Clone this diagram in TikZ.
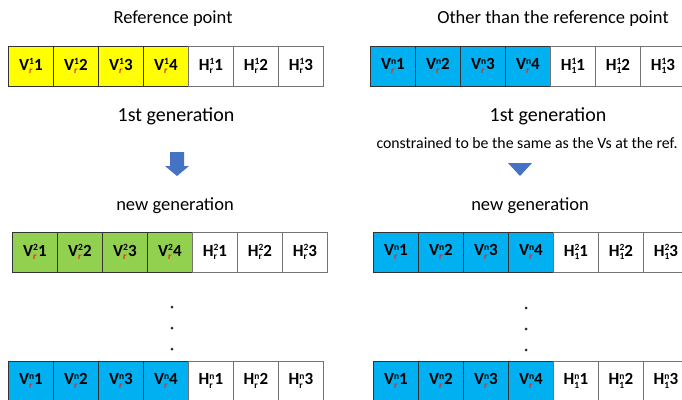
\documentclass[tikz,border=0pt]{standalone}
\usepackage{fontspec}
\setmainfont{Carlito}
\definecolor{cyellow}{HTML}{FFFF00}
\definecolor{cblue}{HTML}{00B0F0}
\definecolor{cgreen}{HTML}{92D050}
\definecolor{arrowblue}{HTML}{4472C4}
\definecolor{subred}{HTML}{E0301E}
\newcommand\supsub[2]{\raisebox{-3.5pt}{\vbox{\fontsize{9.5}{9}\selectfont\baselineskip=9pt\lineskiplimit=-20pt\hbox{#1}\hbox{#2}}}}
\newcommand\cellV[2]{V\supsub{#1}{\color{subred}\itshape r}#2}
\newcommand\cellH[3]{H\supsub{#2}{#1}#3}
\tikzset{
  cellbox/.style={draw=#1, line width=0.8pt, minimum width=45pt, minimum height=39.5pt,
    inner sep=0pt, anchor=north west, font=\fontsize{17}{20}\selectfont\bfseries},
  cellbox/.default={black!80},
  wcell/.style={cellbox={black!55}, fill=white},
  title/.style={font=\fontsize{18.5}{22}\selectfont, inner sep=0pt},
  gen/.style={font=\fontsize{20}{24}\selectfont, inner sep=0pt},
  small/.style={font=\fontsize{15.8}{18}\selectfont, inner sep=0pt},
  dotmark/.style={circle, fill=black!85, inner sep=0pt, minimum size=3pt},
}
\begin{document}
\begin{tikzpicture}[x=1pt,y=-1pt]
\clip (0,0) rectangle (682,399);
\fill[white] (0,0) rectangle (682,399);
% titles
\node[title] (tL) at (173,19) {Reference point};
\node[title] (tR) at (553,19) {Other than the reference point};
\node[gen] (gL) at (176,116) {1st generation};
\node[gen] (gR) at (548,116) {1st generation};
\node[small] (cR) at (527,143) {constrained to be the same as the Vs at the ref.};
\node[title] (nL) at (175,206) {new generation};
\node[title] (nR) at (530,206) {new generation};
% arrows
\fill[arrowblue] (170,152) -- (184,152) -- (184,166) -- (189,166) -- (177,176) -- (165,166) -- (170,166) -- cycle;
\fill[arrowblue] (508,163) -- (532,163) -- (520,176) -- cycle;
% dots
\node[dotmark] (dL1) at (172,307) {};
\node[dotmark] (dL2) at (172,328) {};
\node[dotmark] (dL3) at (172,349) {};
\node[dotmark] (dR1) at (526,308) {};
\node[dotmark] (dR2) at (526,329) {};
\node[dotmark] (dR3) at (526,350) {};
% row 1 left
\foreach \i in {1,...,4}
  \node[cellbox, fill=cyellow] (la\i) at ({8+45*(\i-1)},46) {\cellV{1}{\i}};
\foreach \i in {1,...,3}
  \node[wcell] (lah\i) at ({188+45*(\i-1)},46) {\cellH{r}{1}{\i}};
% row 1 right
\foreach \i in {1,...,4}
  \node[cellbox, fill=cblue] (ra\i) at ({370+45*(\i-1)},46) {\cellV{n}{\i}};
\foreach \i in {1,...,3}
  \node[wcell] (rah\i) at ({550+45*(\i-1)},46) {\cellH{1}{1}{\i}};
% row 2 left
\foreach \i in {1,...,4}
  \node[cellbox, fill=cgreen] (lb\i) at ({12+45*(\i-1)},232) {\cellV{2}{\i}};
\foreach \i in {1,...,3}
  \node[wcell] (lbh\i) at ({192+45*(\i-1)},232) {\cellH{r}{2}{\i}};
% row 2 right
\foreach \i in {1,...,4}
  \node[cellbox, fill=cblue] (rb\i) at ({373+45*(\i-1)},232) {\cellV{n}{\i}};
\foreach \i in {1,...,3}
  \node[wcell] (rbh\i) at ({553+45*(\i-1)},232) {\cellH{1}{2}{\i}};
% row 3 left
\foreach \i in {1,...,4}
  \node[cellbox, fill=cblue] (lc\i) at ({8+45*(\i-1)},361) {\cellV{n}{\i}};
\foreach \i in {1,...,3}
  \node[wcell] (lch\i) at ({188+45*(\i-1)},361) {\cellH{r}{n}{\i}};
% row 3 right
\foreach \i in {1,...,4}
  \node[cellbox, fill=cblue] (rc\i) at ({373+45*(\i-1)},361) {\cellV{n}{\i}};
\foreach \i in {1,...,3}
  \node[wcell] (rch\i) at ({553+45*(\i-1)},361) {\cellH{1}{n}{\i}};
\end{tikzpicture}
\end{document}
